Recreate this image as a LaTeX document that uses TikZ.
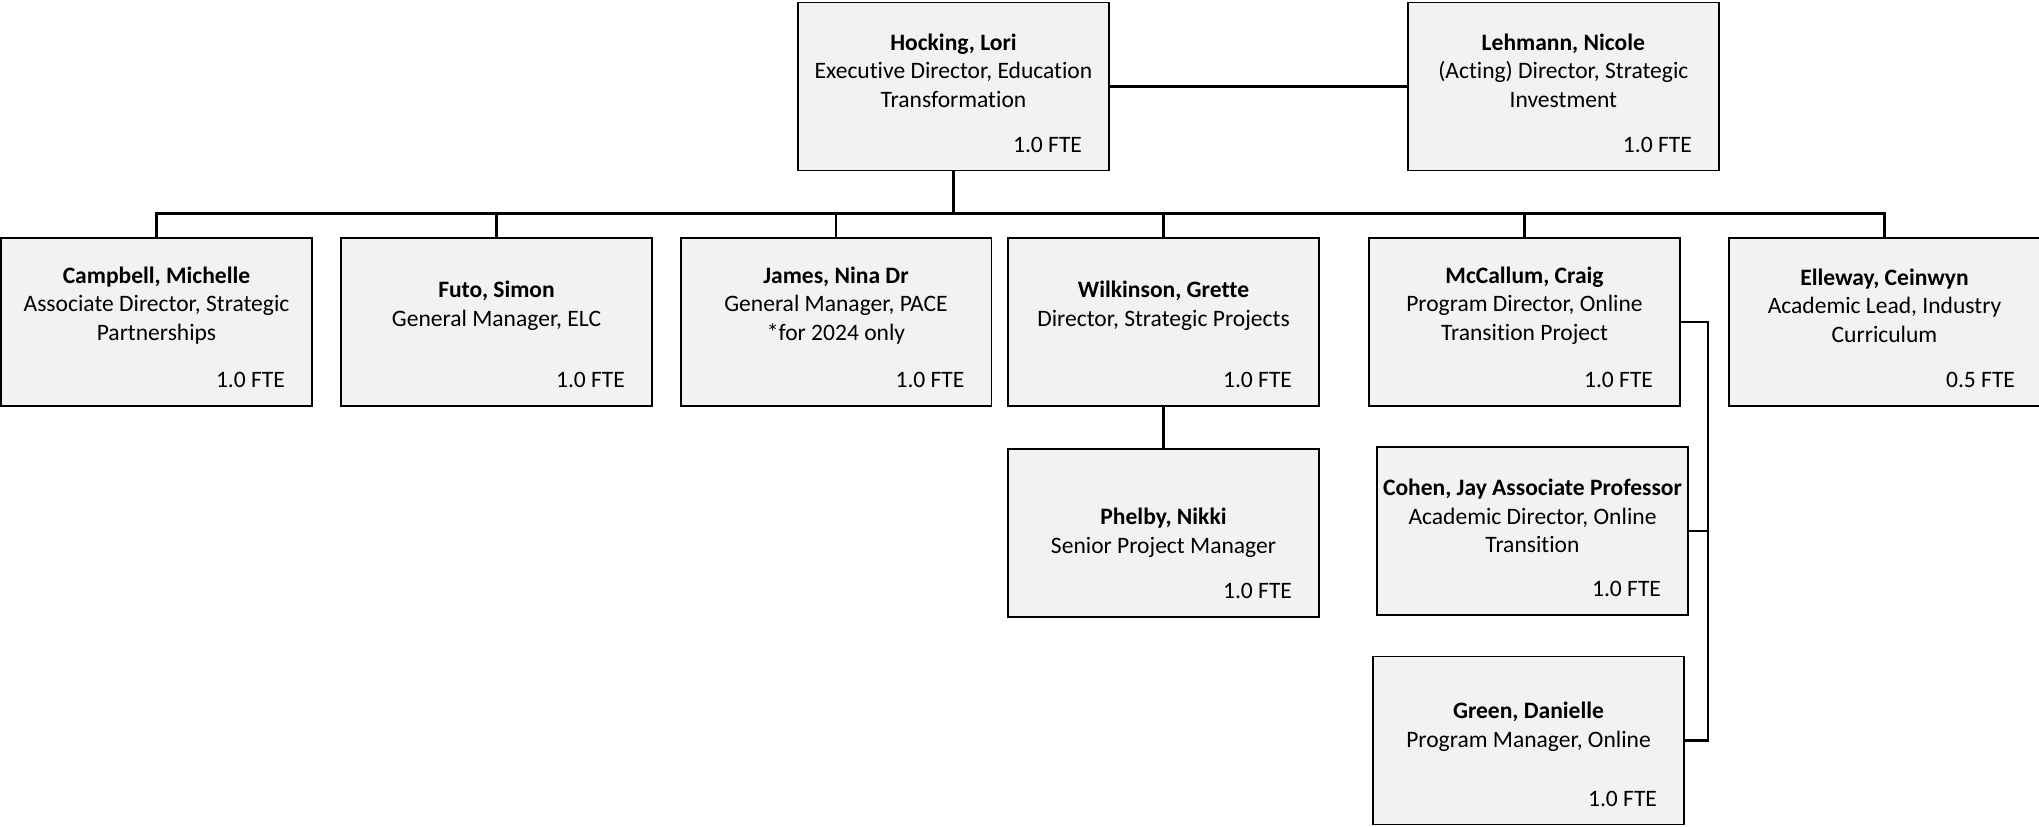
\documentclass[tikz,border=0pt]{standalone}
\usepackage{fontspec}
\setmainfont{Carlito}[Ligatures=NoCommon]
\usetikzlibrary{positioning}
\definecolor{boxgrey}{HTML}{F2F2F2}

\begin{document}
\begin{tikzpicture}[x=0.02cm,y=-0.02cm,line width=1.1pt,
                    every node/.style={font=\fontsize{13.4pt}{16.3pt}\selectfont},
                    person/.style={draw,fill=boxgrey,minimum width=6.22cm,minimum height=3.36cm,inner sep=0pt},
                    who/.style={align=center,inner sep=0pt},
                    fte/.style={anchor=east,inner sep=0pt},
                    link/.style={line width=1.3pt}]
  \useasboundingbox (0,0) rectangle (2039,826);

  % top level
  \node[person] (hocking) at (953.5,86.5) {};
  \node[person] (lehmann) [right=5.94cm of hocking] {};

  % reports
  \node[person] (campbell)  at (156.5,322) {};
  \node[person] (futo)      at (496.5,322) {};
  \node[person] (james)     at (836,322) {};
  \node[person] (wilkinson) at (1163.5,322) {};
  \node[person] (mccallum)  at (1524.5,322) {};
  \node[person] (elleway)   at (1884.5,322) {};
  \node[person] (phelby) [below=0.82cm of wilkinson] {};
  \node[person] (cohen)     at (1532.5,531) {};
  \node[person] (green)     at (1528.5,740.5) {};

  % names and titles
  \node[who] (hocking-t) at ([yshift=0.32cm]hocking.center) {\textbf{Hocking, Lori}\\Executive Director, Education\\Transformation};
  \node[who] (lehmann-t) at ([yshift=0.32cm]lehmann.center) {\textbf{Lehmann, Nicole}\\(Acting) Director, Strategic\\Investment};
  \node[who] (campbell-t) at ([yshift=0.33cm]campbell.center) {\textbf{Campbell, Michelle}\\Associate Director, Strategic\\Partnerships};
  \node[who] (futo-t) at ([yshift=0.32cm]futo.center) {\textbf{Futo, Simon}\\General Manager, ELC};
  \node[who] (james-t) at ([yshift=0.33cm]james.center) {\textbf{James, Nina Dr}\\General Manager, PACE\\*for 2024 only};
  \node[who] (wilkinson-t) at ([yshift=0.32cm]wilkinson.center) {\textbf{Wilkinson, Grette}\\Director, Strategic Projects};
  \node[who] (mccallum-t) at ([yshift=0.33cm]mccallum.center) {\textbf{McCallum, Craig}\\Program Director, Online\\Transition Project};
  \node[who] (elleway-t) at ([yshift=0.33cm]elleway.center) {\textbf{Elleway, Ceinwyn}\\Academic Lead, Industry\\Curriculum};
  \node[who] (phelby-t) at (phelby.center) {\textbf{Phelby, Nikki}\\Senior Project Manager};
  \node[who] (cohen-t) at ([yshift=0.30cm]cohen.center) {\textbf{Cohen, Jay Associate Professor}\\Academic Director, Online\\Transition};
  \node[who] (green-t) at ([yshift=0.27cm]green.center) {\textbf{Green, Danielle}\\Program Manager, Online};

  % FTE
  \foreach \n in {hocking,lehmann,campbell,futo,james,wilkinson,mccallum,phelby,cohen,green}
    \node[fte] (\n-fte) at ([xshift=-0.54cm,yshift=0.54cm]\n.south east) {1.0 FTE};
  \node[fte] (elleway-fte) at ([xshift=-0.5cm,yshift=0.54cm]elleway.south east) {0.5 FTE};

  % lines
  \draw[link] (hocking) -- (lehmann);
  \draw[line width=1.7pt] (hocking.south) -- ++(0,42);
  \foreach \n in {campbell,futo,james,wilkinson,mccallum,elleway}
    \draw[link] (hocking.south) -- ++(0,42) -| (\n.north);
  \draw[link] (wilkinson) -- (phelby);
  \draw[link] (mccallum.east) -- ++(27,0) |- (cohen.east);
  \draw[link] (mccallum.east) -- ++(27,0) |- (green.east);
\end{tikzpicture}
\end{document}
